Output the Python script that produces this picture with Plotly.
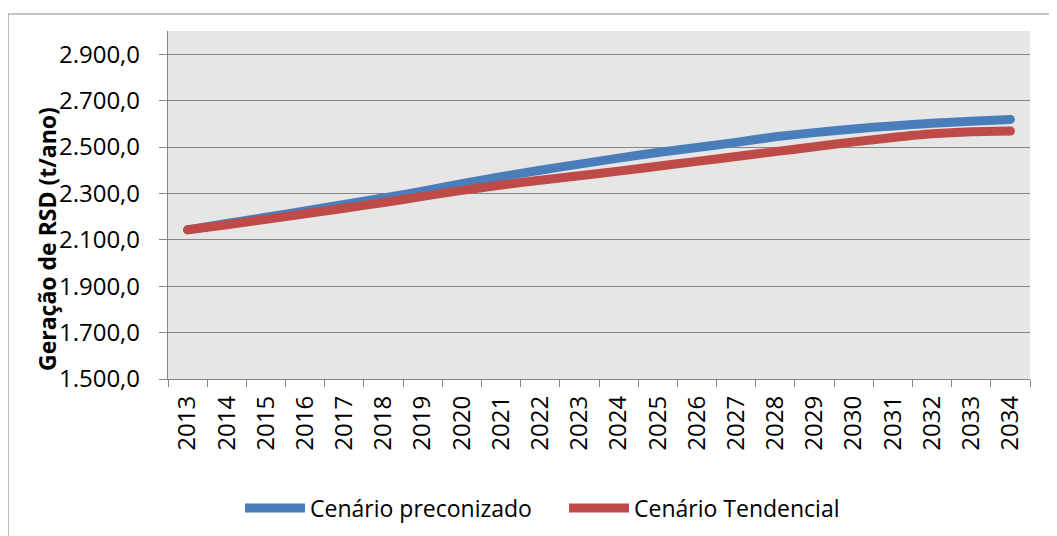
import plotly.graph_objects as go

years = [str(y) for y in range(2013, 2035)]
preconizado = [2143, 2170, 2197, 2224, 2252, 2280, 2310, 2342, 2372, 2400, 2426,
               2452, 2476, 2498, 2520, 2544, 2562, 2578, 2591, 2602, 2611, 2619]
tendencial = [2143, 2165, 2188, 2212, 2236, 2261, 2287, 2313, 2336, 2357, 2376,
              2396, 2417, 2438, 2459, 2480, 2501, 2522, 2541, 2557, 2566, 2569]
y_ticks = [1500, 1700, 1900, 2100, 2300, 2500, 2700, 2900]

BLUE = "#4A7EBB"
RED = "#BE4B48"
FONT = "Open Sans"

# page body adds an 8px margin; work in screen coordinates and offset
OFF = 8
SW, SH = 1057, 536
W, H = SW - OFF, SH - OFF
# plot area in screen pixels
PX0, PX1, PY0, PY1 = 168, 1030, 31, 379
L, R, T, B = PX0 - OFF, SW - PX1, PY0 - OFF, SH - PY1
pw, ph = PX1 - PX0, PY1 - PY0

def px(x):
    return (x - PX0) / pw

def py(y):
    return (PY1 - y) / ph

fig = go.Figure()
for name, vals, col in [("Cenário preconizado", preconizado, BLUE),
                        ("Cenário Tendencial", tendencial, RED)]:
    fig.add_trace(go.Scatter(x=years, y=vals, name=name, mode="lines",
                             line=dict(color=col, width=9, shape="spline", smoothing=0.5),
                             hoverinfo="x+y"))
    fig.add_trace(go.Scatter(x=[years[0], years[-1]], y=[vals[0], vals[-1]],
                             mode="markers", showlegend=False, hoverinfo="skip",
                             marker=dict(color=col, size=9, line=dict(width=0))))

fig.update_layout(
    width=W, height=H,
    margin=dict(l=L, r=R, t=T, b=B, pad=0, autoexpand=False),
    paper_bgcolor="white",
    plot_bgcolor="#E6E6E6",
    separators=",.",
    font=dict(family=FONT, color="black", size=22),
    showlegend=True,
    legend=dict(orientation="h", x=px(240), xanchor="left", y=py(508), yanchor="middle",
                font=dict(size=23, family=FONT), itemwidth=60, bgcolor="rgba(0,0,0,0)",
                entrywidth=249, entrywidthmode="pixels",
                traceorder="normal"),
    xaxis=dict(type="category", range=[-0.5, len(years) - 0.5], tickson="boundaries",
               ticks="outside", ticklen=7, tickcolor="#868686", tickwidth=1.3,
               showline=True, linecolor="#868686", linewidth=1.3,
               showgrid=False, tickangle=-90, tickfont=dict(size=24, family=FONT),
               ticklabelstandoff=6, fixedrange=True),
    yaxis=dict(range=[1500, 3000], tickvals=y_ticks, tickformat=",.1f",
               ticks="outside", ticklen=8, tickcolor="#868686", tickwidth=1.3,
               showline=True, linecolor="#868686", linewidth=1.3,
               showgrid=True, gridcolor="#868686", gridwidth=1.3,
               zeroline=False, tickfont=dict(size=24, family=FONT),
               ticklabelstandoff=14, fixedrange=True),
    shapes=[dict(type="rect", xref="paper", yref="paper",
                 x0=px(8), x1=px(1070), y0=py(560), y1=py(14),
                 line=dict(color="#8C8C8C", width=1.2), layer="below")],
    annotations=[dict(text="<b>Geração de RSD (t/ano)</b>", xref="paper", yref="paper",
                      x=px(47), y=py(239), xanchor="center", yanchor="middle",
                      textangle=-90, showarrow=False, font=dict(size=23, family=FONT))],
)

fig.write_html("out.html")
